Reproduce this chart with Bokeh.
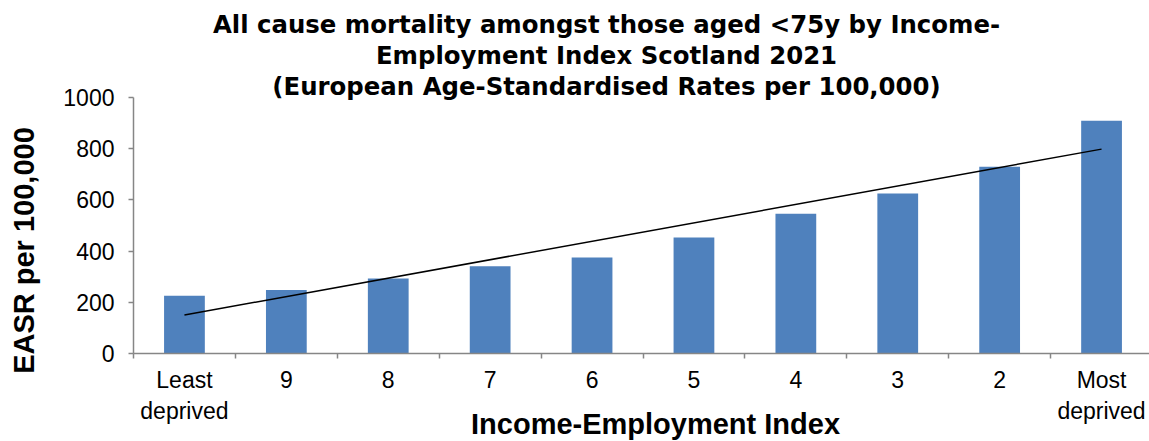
import math
import numpy as np
from bokeh.plotting import figure
from bokeh.models import Range1d, FixedTicker, Label
from bokeh.embed import file_html
from bokeh.resources import INLINE

# ---- data ----
categories = ["Least\ndeprived", "9", "8", "7", "6", "5", "4", "3", "2", "Most\ndeprived"]
easr = [225, 247, 292, 340, 375, 453, 546, 625, 730, 910]
y_ticks = [0, 200, 400, 600, 800, 1000]
title_lines = [
    "All cause mortality amongst those aged <75y by Income-",
    "Employment Index Scotland 2021",
    "(European Age-Standardised Rates per 100,000)",
]
x_title = "Income-Employment Index"
y_title = "EASR per 100,000"

FONT = "Liberation Sans"
TITLE_FONT = "DejaVu Sans"
AXIS_GREY = "#868686"
BAR_BLUE = "#4F81BD"

positions = list(range(1, len(categories) + 1))
slope, intercept = np.polyfit(positions, easr, 1)
trend_x = [positions[0], positions[-1]]
trend_y = [slope * x + intercept for x in trend_x]

# ---- layout geometry (pixels) ----
W, H = 1149, 441
X0_PX = 133.0          # left edge of category axis
CAT_PX = 101.9         # pixels per category
Y0_PX = 352.7          # pixel row of value 0
PX_PER_UNIT = 0.2554   # pixels per value unit

x_start = 0.5 - X0_PX / CAT_PX
x_end = 0.5 + (W - X0_PX) / CAT_PX
y_start = -(H - Y0_PX) / PX_PER_UNIT
y_end = Y0_PX / PX_PER_UNIT

p = figure(
    width=W, height=H,
    x_range=Range1d(x_start, x_end),
    y_range=Range1d(y_start, y_end),
    output_backend="svg", toolbar_location=None,
    min_border=0,
)
p.outline_line_color = None
p.background_fill_color = "white"
p.border_fill_color = "white"
p.xgrid.visible = False
p.ygrid.visible = False

p.vbar(x=positions, top=easr, width=0.4, fill_color=BAR_BLUE, line_color=None)
p.line(x=trend_x, y=trend_y, line_color="black", line_width=1.5)

# x axis
xa = p.xaxis[0]
xa.fixed_location = 0
xa.bounds = (0.5, x_end)
xa.ticker = FixedTicker(ticks=positions, minor_ticks=[i + 0.5 for i in range(0, len(categories) + 1)])
xa.major_label_overrides = {pos: lab for pos, lab in zip(positions, categories)}
xa.major_tick_line_color = None
xa.major_tick_out = 5
xa.major_tick_in = 0
xa.minor_tick_line_color = AXIS_GREY
xa.minor_tick_line_width = 1.5
xa.minor_tick_out = 5
xa.minor_tick_in = 0
xa.axis_line_color = AXIS_GREY
xa.axis_line_width = 1.5
xa.major_label_text_font = FONT
xa.major_label_text_font_size = "23px"
xa.major_label_text_color = "black"
xa.major_label_standoff = 9

# y axis
ya = p.yaxis[0]
ya.fixed_location = 0.5
ya.ticker = FixedTicker(ticks=y_ticks)
ya.bounds = (0, 1000)
ya.minor_tick_line_color = None
ya.major_tick_line_color = AXIS_GREY
ya.major_tick_line_width = 1.5
ya.major_tick_out = 5
ya.major_tick_in = 0
ya.axis_line_color = AXIS_GREY
ya.axis_line_width = 1.5
ya.major_label_text_font = FONT
ya.major_label_text_font_size = "23px"
ya.major_label_text_color = "black"
ya.major_label_standoff = 14

# titles (annotation positions, in data units)
title_y = [1288, 1164, 1044]
for txt, ty in zip(title_lines, title_y):
    p.add_layout(Label(x=5.142, y=ty, text=txt, text_align="center", text_baseline="alphabetic",
                       text_font=TITLE_FONT, text_font_style="bold", text_font_size="24.4px",
                       text_color="black"))

p.add_layout(Label(x=5.623, y=-276, text=x_title, text_align="center", text_baseline="alphabetic",
                   text_font=FONT, text_font_style="bold", text_font_size="29px", text_color="black"))
p.add_layout(Label(x=-0.575, y=402, text=y_title, angle=math.pi / 2, text_align="center",
                   text_baseline="middle", text_font=FONT, text_font_style="bold",
                   text_font_size="29px", text_color="black"))

open("out.html", "w").write(file_html(p, INLINE))
